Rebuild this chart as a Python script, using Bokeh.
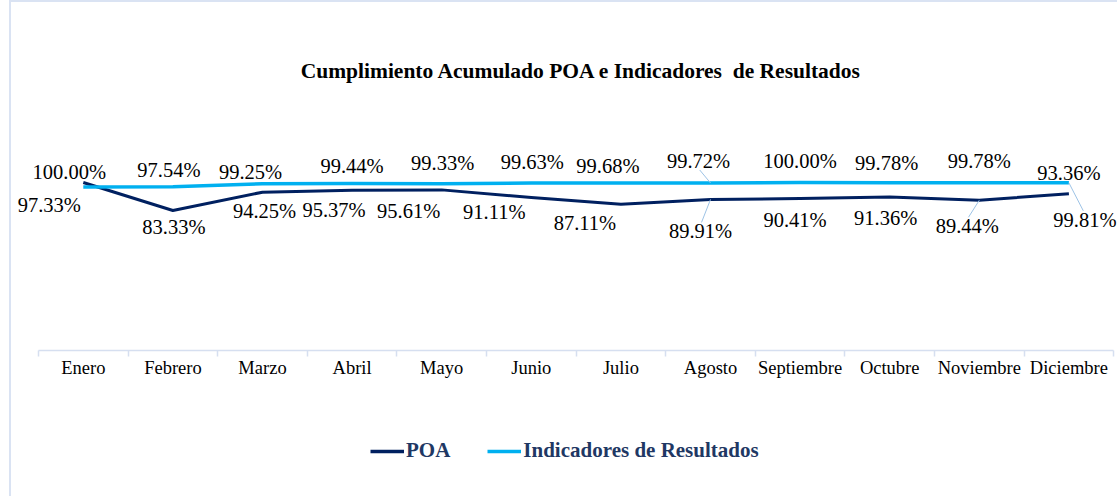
from bokeh.plotting import figure
from bokeh.layouts import column
from bokeh.models import (Range1d, FixedTicker, Label, Legend, LegendItem)
from bokeh.embed import file_html
from bokeh.resources import INLINE

# ---- data ----
months = ["Enero", "Febrero", "Marzo", "Abril", "Mayo", "Junio", "Julio",
          "Agosto", "Septiembre", "Octubre", "Noviembre", "Diciembre"]
poa = [100.00, 83.33, 94.25, 95.37, 95.61, 91.11, 87.11, 89.91, 90.41, 91.36, 89.44, 93.36]
indicadores = [97.33, 97.54, 99.25, 99.44, 99.33, 99.63, 99.68, 99.72, 100.00, 99.78, 99.78, 99.81]
series_names = ["POA", "Indicadores de Resultados"]
title_text = "Cumplimiento Acumulado POA e Indicadores\u00a0 de Resultados"

# ---- label placement (screen px offsets from each point; +y = down) ----
poa_dx = [-14, 1, 2, -18, -33, -37, -36, -10, -5, -4, -12, 0]
poa_dy = [-11, 16, 19, 20, 21, 15, 19, 32, 21, 21, 26, -21]
ind_dx = [-34, -4, -12, 0, 1, 1, -13, -12, 0, -3, 0, 16]
ind_dy = [18, -17, -12, -17, -21, -21, -17, -22, -22, -20, -22, 37]

PX_X = 89.6   # px per category
PX_Y = 1.68   # px per percent

NAVY = "#002060"
CYAN = "#00B0F0"
AXIS_C = "#d6dff0"
FONT = "Liberation Serif"

xs = [i + 0.5 for i in range(len(months))]

p = figure(width=1106, height=400, output_backend="svg", toolbar_location=None,
           x_range=Range1d(-27 / PX_X, 1079 / PX_X), y_range=Range1d(0, 348 / PX_Y),
           min_border_left=0, min_border_right=0, min_border_top=0,
           min_border_bottom=52, background_fill_color="white",
           border_fill_color="white", outline_line_color=None)

p.grid.visible = False
p.yaxis.visible = False

ax = p.xaxis[0]
ax.ticker = FixedTicker(ticks=xs, minor_ticks=list(range(len(months) + 1)))
ax.major_label_overrides = {x: m for x, m in zip(xs, months)}
ax.bounds = (0, len(months))
ax.axis_line_color = AXIS_C
ax.axis_line_width = 1.5
ax.major_tick_line_color = None
ax.major_tick_in = 0
ax.major_tick_out = 0
ax.minor_tick_line_color = AXIS_C
ax.minor_tick_line_width = 1.5
ax.minor_tick_in = 0
ax.minor_tick_out = 6
ax.major_label_standoff = 1
ax.major_label_text_font = FONT
ax.major_label_text_font_size = "18.5px"
ax.major_label_text_color = "#000000"

p.line(xs, poa, line_color=NAVY, line_width=3, line_join="round")
p.line(xs, indicadores, line_color=CYAN, line_width=3.5, line_join="round")

# leader lines for the displaced labels
lead = [(7, poa, poa_dx, poa_dy), (10, poa, poa_dx, poa_dy),
        (7, indicadores, ind_dx, ind_dy), (11, indicadores, ind_dx, ind_dy)]
x0, y0, x1, y1 = [], [], [], []
for i, vals, dxs, dys in lead:
    x0.append(xs[i]); y0.append(vals[i])
    sgn = 1 if dys[i] > 0 else -1
    x1.append(xs[i] + dxs[i] / PX_X * 0.9)
    y1.append(vals[i] - (dys[i] - sgn * 9) / PX_Y)
p.segment(x0, y0, x1, y1, line_color="#9dc3e6", line_width=1)

def fmt(v):
    return f"{v:.2f}%"

# data labels
for vals, dxs, dys in ((poa, poa_dx, poa_dy), (indicadores, ind_dx, ind_dy)):
    for x, v, dx, dy in zip(xs, vals, dxs, dys):
        p.add_layout(Label(x=x, y=v, text=fmt(v), x_offset=dx, y_offset=-dy,
                           text_align="center", text_baseline="middle",
                           text_font=FONT, text_font_size="20.5px",
                           text_color="#000000"))

p.add_layout(Label(x=(581 - 38) / PX_X, y=(350 - 70) / PX_Y, text=title_text,
                   text_align="center", text_baseline="middle", text_font=FONT,
                   text_font_size="21.5px", text_font_style="bold", text_color="#000000"))

# ---- legend strip ----
q = figure(width=1106, height=94, output_backend="svg", toolbar_location=None,
           x_range=Range1d(0, 1), y_range=Range1d(0, 1),
           x_axis_location=None, y_axis_location=None,
           min_border_left=0, min_border_right=0, min_border_top=0, min_border_bottom=0,
           background_fill_color="white", border_fill_color="white",
           outline_line_color=None)
q.grid.visible = False
# same series drawn outside this strip's visible range; only their legend keys show
k1 = q.line(xs, poa, line_color=NAVY, line_width=3.5)
k2 = q.line(xs, indicadores, line_color=CYAN, line_width=3.5)
legend = Legend(items=[LegendItem(label=series_names[0], renderers=[k1]),
                       LegendItem(label=series_names[1], renderers=[k2])],
                orientation="horizontal", location=(359, 33),
                glyph_width=34, glyph_height=20, label_standoff=2, spacing=37,
                padding=0, margin=0, border_line_color=None,
                background_fill_alpha=0,
                label_text_font=FONT, label_text_font_size="21px",
                label_text_font_style="bold", label_text_color="#1f3864")
q.add_layout(legend)

lay = column(p, q, spacing=0)
lay.margin = (0, 0, 0, 9)
lay.styles = {"border-left": "2px solid #dae3f3", "border-top": "2px solid #dae3f3"}

open("out.html", "w").write(file_html(lay, INLINE))
